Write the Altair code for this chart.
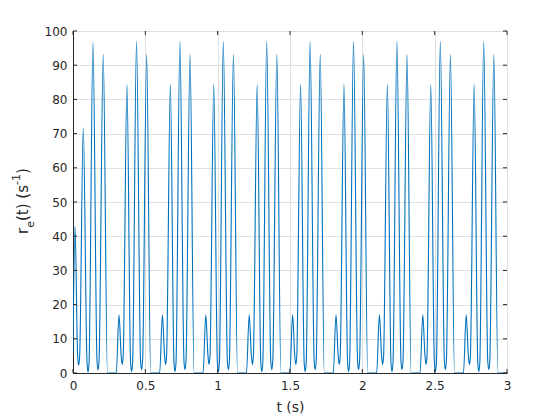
import altair as alt
import pandas as pd

# ---- values (time in s, rate in 1/s) ----
start_t = [0.000]
start_r = [6.0]

peak_t = [0.014, 0.071, 0.138, 0.209,
          0.318, 0.373, 0.439, 0.509,
          0.618, 0.673, 0.739, 0.809,
          0.918, 0.973, 1.039, 1.109,
          1.218, 1.273, 1.339, 1.409,
          1.518, 1.573, 1.639, 1.709,
          1.818, 1.873, 1.939, 2.009,
          2.118, 2.173, 2.239, 2.309,
          2.418, 2.473, 2.539, 2.609,
          2.718, 2.773, 2.839, 2.909]
peak_r = [42.8, 71.7, 96.8, 93.2,
          17.0, 84.4, 97.0, 93.2,
          17.0, 84.4, 97.0, 93.2,
          17.0, 84.4, 97.0, 93.2,
          17.0, 84.4, 97.0, 93.2,
          17.0, 84.4, 97.0, 93.2,
          17.0, 84.4, 97.0, 93.2,
          17.0, 84.4, 97.0, 93.2,
          17.0, 84.4, 97.0, 93.2,
          17.0, 84.4, 97.0, 93.2]

trough_t = [0.039, 0.104, 0.173,
            0.340, 0.405, 0.474,
            0.640, 0.705, 0.774,
            0.940, 1.005, 1.074,
            1.240, 1.305, 1.374,
            1.540, 1.605, 1.674,
            1.840, 1.905, 1.974,
            2.140, 2.205, 2.274,
            2.440, 2.505, 2.574,
            2.740, 2.805, 2.874]
trough_r = [2.3, 0.3, 0.9,
            2.5, 0.4, 1.0,
            2.5, 0.4, 1.0,
            2.5, 0.4, 1.0,
            2.5, 0.4, 1.0,
            2.5, 0.4, 1.0,
            2.5, 0.4, 1.0,
            2.5, 0.4, 1.0,
            2.5, 0.4, 1.0,
            2.5, 0.4, 1.0]

# rounded shoulders either side of each trough (read as ~3 units above the minimum)
shoulder_t = [0.032, 0.046, 0.097, 0.111, 0.166, 0.180,
              0.333, 0.347, 0.398, 0.412, 0.467, 0.481,
              0.633, 0.647, 0.698, 0.712, 0.767, 0.781,
              0.933, 0.947, 0.998, 1.012, 1.067, 1.081,
              1.233, 1.247, 1.298, 1.312, 1.367, 1.381,
              1.533, 1.547, 1.598, 1.612, 1.667, 1.681,
              1.833, 1.847, 1.898, 1.912, 1.967, 1.981,
              2.133, 2.147, 2.198, 2.212, 2.267, 2.281,
              2.433, 2.447, 2.498, 2.512, 2.567, 2.581,
              2.733, 2.747, 2.798, 2.812, 2.867, 2.881]
shoulder_r = [5.0, 5.0, 3.0, 3.0, 3.5, 3.5,
              5.0, 5.0, 3.0, 3.0, 3.5, 3.5,
              5.0, 5.0, 3.0, 3.0, 3.5, 3.5,
              5.0, 5.0, 3.0, 3.0, 3.5, 3.5,
              5.0, 5.0, 3.0, 3.0, 3.5, 3.5,
              5.0, 5.0, 3.0, 3.0, 3.5, 3.5,
              5.0, 5.0, 3.0, 3.0, 3.5, 3.5,
              5.0, 5.0, 3.0, 3.0, 3.5, 3.5,
              5.0, 5.0, 3.0, 3.0, 3.5, 3.5,
              5.0, 5.0, 3.0, 3.0, 3.5, 3.5]

# silent stretches (rate at zero)
floor_t = [0.238, 0.299, 0.537, 0.599, 0.837, 0.899, 1.137, 1.199,
           1.437, 1.499, 1.737, 1.799, 2.037, 2.099, 2.337, 2.399,
           2.637, 2.699, 2.937, 3.000]
floor_r = [0.0] * len(floor_t)

x_ticks = [0, 0.5, 1, 1.5, 2, 2.5, 3]
y_ticks = [0, 10, 20, 30, 40, 50, 60, 70, 80, 90, 100]

# y-axis title pieces: r, subscript e, (t) (s, superscript -1, )
title_texts = ["r", "e", "(t) (s", "-1", ")"]

df = pd.DataFrame({
    "t": start_t + peak_t + trough_t + shoulder_t + floor_t,
    "r": start_r + peak_r + trough_r + shoulder_r + floor_r,
}).sort_values("t").reset_index(drop=True)

W, H = 434, 342
INK = "#262626"
FONT = "DejaVu Sans"
TICK = 4

xs = alt.Scale(domain=[0, 3], nice=False, zero=False)
ys = alt.Scale(domain=[0, 100], nice=False)

x_axis = alt.Axis(values=x_ticks, format="~g", title="t (s)",
                  ticks=False, tickSize=0, labelPadding=7,
                  labelFlush=False, labelOverlap=False,
                  titlePadding=9, grid=True)
y_axis = alt.Axis(values=y_ticks, title=None, ticks=False,
                  tickSize=0, labelPadding=6, labelFlush=False,
                  labelOverlap=False, grid=True)

line = alt.Chart(df).mark_line(
    color="#0072BD", strokeWidth=1.1, interpolate="monotone", clip=True
).encode(
    x=alt.X("t:Q", scale=xs, axis=x_axis),
    y=alt.Y("r:Q", scale=ys, axis=y_axis),
)

xt = pd.DataFrame({"v": x_ticks})
yt = pd.DataFrame({"v": y_ticks})

x_bot = alt.Chart(xt).mark_rule(color=INK, strokeWidth=1).encode(
    x=alt.X("v:Q", scale=xs, axis=x_axis), y=alt.value(H), y2=alt.value(H - TICK))
x_top = alt.Chart(xt).mark_rule(color=INK, strokeWidth=1).encode(
    x=alt.X("v:Q", scale=xs, axis=x_axis), y=alt.value(0), y2=alt.value(TICK))
y_left = alt.Chart(yt).mark_rule(color=INK, strokeWidth=1).encode(
    y=alt.Y("v:Q", scale=ys, axis=y_axis), x=alt.value(0), x2=alt.value(TICK))
y_right = alt.Chart(yt).mark_rule(color=INK, strokeWidth=1).encode(
    y=alt.Y("v:Q", scale=ys, axis=y_axis), x=alt.value(W - TICK), x2=alt.value(W))

# placement (pixels relative to plot area) and sizes of title pieces
piece_style = [(15, -45.5, 203.0), (11, -39.5, 196.8), (15, -45.5, 190.0),
               (11, -53.5, 154.0), (15, -45.5, 143.0)]
one = pd.DataFrame({"k": [0]})

def piece(txt, style):
    size, px, py = style
    return alt.Chart(one).mark_text(
        text=txt, angle=270, align="left", baseline="alphabetic",
        font=FONT, fontSize=size, fontWeight="normal", color=INK
    ).encode(x=alt.value(px), y=alt.value(py))

title_layers = [piece(t, s) for t, s in zip(title_texts, piece_style)]

chart = alt.layer(line, x_bot, x_top, y_left, y_right, *title_layers).properties(
    width=W, height=H,
    autosize=alt.AutoSizeParams(type="none"),
    padding={"left": 65, "top": 23, "right": 45, "bottom": 45},
).configure_view(
    stroke=INK, strokeWidth=1
).configure_axis(
    domainColor=INK, domainWidth=1,
    gridColor="#dfdfdf", gridWidth=1,
    labelColor=INK, labelFont=FONT, labelFontSize=12,
    titleColor=INK, titleFont=FONT, titleFontSize=14, titleFontWeight="normal",
)

chart.save("out.html", embed_options={"renderer": "svg", "actions": False})
